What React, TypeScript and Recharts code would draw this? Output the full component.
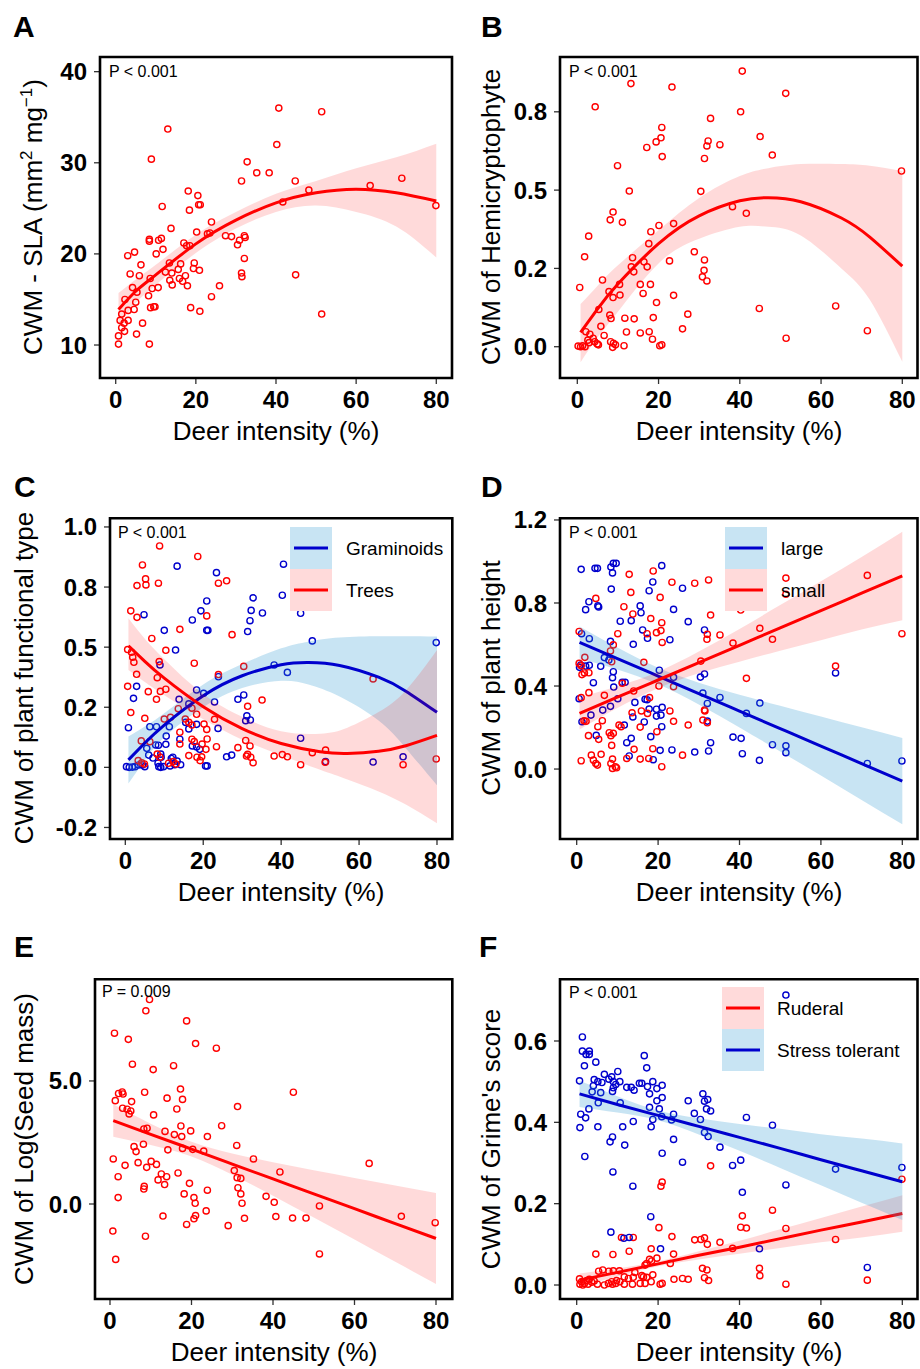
import React from "react";
import {
    ComposedChart,
    XAxis,
    YAxis,
    Scatter,
    Line,
    Area,
    ReferenceArea,
} from "recharts";

type Pt = [number, number];

const FONT = "'Liberation Sans', Arial, sans-serif";
const RED = "#ff0000";
const BLUE = "#0000cd";

const xTicks = [0, 20, 40, 60, 80];

// ---- A: CWM - SLA ----
const ptsA: Pt[] = [
    [40.7, 36.0], [51.4, 35.6], [13.0, 33.7], [40.2, 32.0], [8.9, 30.4], [32.8, 30.1], [35.2, 28.9], [38.3, 28.9],
    [31.4, 28.0], [44.8, 28.0], [71.4, 28.3], [63.5, 27.5], [48.2, 27.0], [18.1, 26.9], [20.5, 26.4], [20.7, 25.4],
    [21.1, 25.4], [41.7, 25.7], [79.9, 25.3], [11.6, 25.2], [18.4, 24.8], [23.9, 23.5], [13.8, 22.8], [20.2, 22.4],
    [22.9, 22.2], [23.5, 22.3], [27.4, 22.0], [28.9, 21.9], [32.1, 22.0], [32.3, 21.8], [30.9, 21.5], [30.4, 21.0],
    [8.4, 21.6], [8.4, 21.4], [10.7, 21.5], [11.4, 21.7], [11.8, 20.5], [17.0, 21.2], [17.7, 20.9], [18.5, 20.9],
    [3.0, 19.8], [4.7, 20.2], [10.1, 20.0], [32.1, 19.5], [13.4, 19.0], [16.2, 18.9], [19.6, 19.0], [19.4, 18.4],
    [20.9, 18.2], [6.3, 18.8], [3.6, 17.8], [5.9, 17.6], [12.4, 18.0], [14.0, 17.9], [15.6, 18.3], [17.4, 17.6],
    [17.9, 16.5], [15.9, 17.3], [16.7, 17.0], [13.5, 17.1], [14.1, 16.6], [8.6, 17.3], [4.2, 16.3], [9.1, 16.2],
    [10.6, 16.3], [25.9, 16.5], [31.4, 17.9], [31.5, 17.5], [44.9, 17.7], [2.3, 15.0], [5.3, 15.8], [8.2, 15.4],
    [23.9, 15.3], [5.0, 14.7], [8.7, 14.1], [9.5, 14.2], [9.8, 14.2], [18.7, 14.1], [21.0, 13.7], [4.6, 13.9],
    [3.1, 13.8], [1.5, 13.4], [51.4, 13.4], [1.1, 12.7], [3.1, 12.7], [2.1, 12.4], [6.7, 12.4], [1.5, 11.9],
    [2.2, 11.5], [0.7, 11.0], [5.2, 11.2], [0.7, 10.1], [8.4, 10.1],
];
const fitXA = [0.7, 5, 10, 20, 30, 40, 50, 60, 70, 80];
const fitA = [13.9, 15.9, 17.7, 21.1, 23.7, 25.6, 26.7, 27.1, 26.7, 25.8];
const loA = [12.2, 14.6, 16.6, 20.1, 22.8, 24.6, 25.3, 24.6, 23.0, 19.6];
const hiA = [15.7, 17.2, 18.8, 22.1, 24.6, 26.6, 28.0, 29.4, 30.6, 32.1];
const yTicksA = [10, 20, 30, 40];
const yLabelsA = ["10", "20", "30", "40"];

// ---- B: Hemicryptophyte ----
const ptsB: Pt[] = [
    [40.6, 0.88], [13.2, 0.84], [23.3, 0.829], [51.3, 0.809], [4.4, 0.766], [40.2, 0.75], [32.8, 0.729], [20.8, 0.7],
    [45.0, 0.671], [20.6, 0.667], [19.4, 0.654], [32.2, 0.657], [31.9, 0.641], [35.1, 0.645], [17.1, 0.636], [20.9, 0.607],
    [48.0, 0.612], [31.3, 0.601], [9.9, 0.578], [79.8, 0.561], [12.8, 0.497], [30.4, 0.496], [38.2, 0.447], [41.6, 0.426],
    [8.8, 0.43], [8.1, 0.405], [11.1, 0.397], [23.7, 0.393], [20.1, 0.387], [18.1, 0.367], [2.8, 0.353], [17.6, 0.329],
    [28.8, 0.303], [1.8, 0.287], [13.6, 0.284], [31.3, 0.277], [22.7, 0.274], [16.4, 0.271], [13.3, 0.255], [13.9, 0.239],
    [17.2, 0.255], [31.2, 0.244], [30.8, 0.223], [31.9, 0.21], [6.2, 0.213], [0.6, 0.189], [15.5, 0.199], [18.0, 0.199],
    [10.4, 0.199], [10.5, 0.165], [16.2, 0.17], [23.7, 0.164], [7.8, 0.176], [8.8, 0.157], [19.5, 0.141], [5.3, 0.119],
    [44.8, 0.122], [63.6, 0.13], [27.2, 0.104], [8.0, 0.101], [8.3, 0.09], [11.7, 0.091], [14.0, 0.089], [18.7, 0.093],
    [5.8, 0.065], [25.9, 0.057], [71.4, 0.051], [12.1, 0.047], [15.5, 0.044], [17.7, 0.048], [2.1, 0.048], [3.1, 0.04],
    [6.6, 0.036], [3.9, 0.027], [4.3, 0.016], [4.9, 0.009], [5.2, 0.006], [8.2, 0.016], [8.9, 0.011], [9.4, 0.006],
    [8.7, -0.002], [18.5, 0.024], [51.4, 0.027], [11.5, 0.003], [20.3, 0.003], [20.8, 0.006], [0.2, 0.002], [0.8, 0.0],
    [1.3, 0.003], [1.9, 0.0], [2.6, 0.021], [2.9, 0.013],
];
const fitXB = [0.8, 5, 10, 20, 30, 40, 47, 55, 65, 72, 80];
const fitB = [0.046, 0.121, 0.2, 0.329, 0.418, 0.466, 0.476, 0.463, 0.411, 0.35, 0.257];
const loB = [-0.05, 0.03, 0.112, 0.266, 0.345, 0.383, 0.383, 0.355, 0.25, 0.15, -0.048];
const hiB = [0.136, 0.195, 0.26, 0.372, 0.475, 0.545, 0.57, 0.583, 0.583, 0.578, 0.561];
const yTicksB = [0, 0.25, 0.5, 0.75];
const yLabelsB = ["0.0", "0.2", "0.5", "0.8"];

// ---- C: plant functional type ----
const ptsCTrees: Pt[] = [
    [8.8, 0.921], [18.6, 0.877], [4.4, 0.842], [5.2, 0.784], [5.3, 0.759], [3.0, 0.756], [8.5, 0.766], [23.9, 0.766],
    [26.0, 0.776], [1.4, 0.651], [3.0, 0.624], [20.9, 0.63], [14.0, 0.574], [27.4, 0.552], [6.8, 0.536], [10.4, 0.487],
    [0.6, 0.49], [1.6, 0.479], [1.9, 0.458], [2.2, 0.437], [8.7, 0.44], [17.7, 0.433], [2.9, 0.387], [8.2, 0.373],
    [30.4, 0.42], [23.9, 0.386], [63.6, 0.368], [0.6, 0.337], [5.9, 0.315], [9.0, 0.316], [10.4, 0.325], [8.0, 0.283],
    [35.1, 0.28], [31.4, 0.254], [13.6, 0.244], [17.1, 0.246], [1.4, 0.228], [5.0, 0.204], [10.0, 0.201], [11.6, 0.208],
    [15.4, 0.201], [16.3, 0.187], [17.1, 0.176], [18.3, 0.221], [20.2, 0.18], [20.9, 0.158], [22.9, 0.2], [14.0, 0.146],
    [14.0, 0.097], [17.1, 0.117], [17.7, 0.107], [19.7, 0.097], [21.0, 0.118], [23.4, 0.086], [28.9, 0.082], [30.9, 0.112],
    [32.0, 0.089], [31.4, 0.054], [31.1, 0.047], [32.2, 0.042], [32.8, 0.019], [4.1, 0.11], [6.3, 0.107], [8.2, 0.055],
    [8.9, 0.042], [3.3, 0.028], [4.2, 0.019], [4.9, 0.014], [11.1, 0.017], [12.3, 0.024], [13.0, 0.014], [16.3, 0.049],
    [18.4, 0.042], [19.2, 0.028], [19.6, 0.044], [20.7, 0.075], [38.2, 0.047], [40.3, 0.053], [41.6, 0.044], [45.0, 0.011],
    [48.0, 0.061], [51.4, 0.072], [51.3, 0.021], [71.3, 0.011], [79.8, 0.035],
];
const ptsCGram: Pt[] = [
    [13.3, 0.837], [23.4, 0.81], [40.6, 0.845], [20.9, 0.692], [32.8, 0.705], [40.3, 0.716], [32.3, 0.653], [32.0, 0.61],
    [35.2, 0.642], [19.4, 0.651], [4.8, 0.635], [45.0, 0.641], [17.2, 0.613], [20.9, 0.57], [21.2, 0.57], [10.0, 0.57],
    [31.4, 0.565], [48.0, 0.526], [79.8, 0.519], [12.9, 0.488], [8.9, 0.426], [38.2, 0.426], [41.6, 0.395], [23.9, 0.377],
    [2.9, 0.337], [18.3, 0.322], [20.1, 0.308], [2.1, 0.287], [13.8, 0.283], [28.9, 0.283], [30.4, 0.301], [22.9, 0.272],
    [16.3, 0.264], [31.2, 0.214], [30.9, 0.194], [32.1, 0.197], [0.8, 0.165], [6.3, 0.169], [8.0, 0.169], [11.3, 0.169],
    [15.5, 0.187], [16.3, 0.16], [18.3, 0.179], [23.8, 0.162], [10.5, 0.13], [14.0, 0.117], [45.0, 0.121], [7.8, 0.093],
    [8.5, 0.092], [10.4, 0.096], [17.2, 0.089], [18.3, 0.085], [19.1, 0.075], [5.5, 0.079], [6.0, 0.051], [7.1, 0.039],
    [9.1, 0.055], [9.2, 0.042], [11.8, 0.037], [12.2, 0.042], [13.3, 0.026], [26.0, 0.044], [27.3, 0.051], [63.6, 0.022],
    [71.3, 0.044], [51.4, 0.024], [0.3, 0.003], [1.0, 0.0], [1.8, 0.001], [2.5, 0.003], [3.4, 0.01], [4.4, 0.01],
    [5.0, 0.003], [8.6, 0.003], [9.1, 0.0], [9.8, 0.003], [11.5, 0.006], [12.7, 0.011], [14.2, 0.011], [20.6, 0.006],
    [21.0, 0.006], [8.4, 0.017],
];
const fitXCGram = [0.8, 5, 10, 20, 30, 40, 47, 55, 65, 72, 80];
const fitCGram = [0.031, 0.101, 0.176, 0.298, 0.381, 0.427, 0.436, 0.424, 0.375, 0.317, 0.229];
const loCGram = [-0.067, 0.03, 0.125, 0.25, 0.33, 0.36, 0.345, 0.295, 0.195, 0.08, -0.074];
const hiCGram = [0.128, 0.17, 0.225, 0.345, 0.43, 0.495, 0.523, 0.54, 0.545, 0.545, 0.544];
const fitXCTrees = [0.8, 5, 10, 20, 30, 40, 50, 57, 65, 72, 80];
const fitCTrees = [0.506, 0.441, 0.371, 0.252, 0.161, 0.099, 0.065, 0.058, 0.067, 0.09, 0.133];
const loCTrees = [0.405, 0.355, 0.3, 0.2, 0.115, 0.05, -0.01, -0.05, -0.1, -0.155, -0.233];
const hiCTrees = [0.62, 0.535, 0.45, 0.305, 0.21, 0.15, 0.14, 0.165, 0.23, 0.32, 0.488];
const yTicksC = [-0.25, 0, 0.25, 0.5, 0.75, 1.0];
const yLabelsC = ["-0.2", "0.0", "0.2", "0.5", "0.8", "1.0"];

// ---- D: plant height ----
const ptsDLarge: Pt[] = [
    [1.1, 0.962], [4.5, 0.967], [5.1, 0.967], [8.4, 0.973], [9.0, 0.991], [9.7, 0.991], [8.8, 0.945], [20.9, 0.98],
    [18.7, 0.901], [26.0, 0.871], [17.8, 0.859], [8.5, 0.867], [3.0, 0.806], [5.2, 0.786], [5.4, 0.781], [2.2, 0.768],
    [15.6, 0.786], [15.8, 0.753], [23.8, 0.769], [13.4, 0.715], [10.7, 0.712], [27.4, 0.71], [31.4, 0.67], [16.2, 0.67],
    [17.4, 0.63], [22.9, 0.623], [1.2, 0.652], [3.1, 0.628], [13.9, 0.601], [8.3, 0.615], [6.8, 0.537], [7.9, 0.525],
    [5.9, 0.495], [0.7, 0.49], [1.0, 0.501], [2.2, 0.496], [3.1, 0.5], [9.0, 0.469], [8.8, 0.44], [9.1, 0.395],
    [20.3, 0.476], [31.4, 0.458], [30.4, 0.443], [23.8, 0.442], [4.1, 0.416], [11.2, 0.418], [11.9, 0.418], [10.1, 0.339],
    [14.3, 0.321], [16.8, 0.336], [17.3, 0.334], [0.6, 0.339], [31.0, 0.366], [32.1, 0.316], [35.2, 0.345], [45.0, 0.318],
    [41.7, 0.268], [63.6, 0.463], [8.3, 0.302], [6.4, 0.284], [1.3, 0.228], [3.5, 0.26], [17.8, 0.289], [19.6, 0.288],
    [21.0, 0.297], [20.7, 0.26], [19.6, 0.255], [13.8, 0.251], [16.6, 0.227], [32.1, 0.231], [11.7, 0.212], [20.9, 0.204],
    [4.8, 0.162], [18.2, 0.156], [13.4, 0.148], [12.3, 0.127], [38.4, 0.154], [40.4, 0.148], [32.9, 0.127], [48.1, 0.117],
    [51.4, 0.112], [51.4, 0.079], [20.5, 0.09], [23.4, 0.092], [29.0, 0.082], [32.4, 0.087], [40.7, 0.074], [12.9, 0.063],
    [18.8, 0.045], [44.9, 0.042], [71.4, 0.027], [79.9, 0.039],
];
const ptsDSmall: Pt[] = [
    [18.8, 0.954], [12.9, 0.938], [32.4, 0.911], [23.4, 0.9], [29.0, 0.895], [51.4, 0.92], [71.4, 0.933], [13.3, 0.851],
    [51.4, 0.842], [4.7, 0.822], [20.5, 0.827], [11.6, 0.782], [40.3, 0.766], [13.8, 0.747], [32.9, 0.742], [18.2, 0.725],
    [20.9, 0.705], [20.7, 0.667], [0.6, 0.663], [19.6, 0.657], [17.3, 0.652], [32.1, 0.649], [32.0, 0.625], [35.2, 0.646],
    [45.0, 0.678], [10.1, 0.652], [21.0, 0.61], [38.4, 0.607], [48.1, 0.625], [79.9, 0.652], [9.0, 0.598], [8.3, 0.569],
    [8.6, 0.517], [2.0, 0.538], [16.5, 0.514], [30.5, 0.52], [63.6, 0.496], [0.6, 0.509], [1.1, 0.498], [1.3, 0.455],
    [1.9, 0.463], [3.0, 0.464], [41.7, 0.437], [20.2, 0.4], [23.8, 0.397], [11.2, 0.413], [14.0, 0.376], [6.8, 0.355],
    [3.0, 0.368], [17.9, 0.344], [1.1, 0.344], [2.3, 0.23], [1.8, 0.233], [15.9, 0.28], [13.6, 0.271], [22.9, 0.28],
    [31.4, 0.284], [31.5, 0.28], [17.4, 0.268], [31.0, 0.236], [32.1, 0.223], [23.8, 0.23], [6.3, 0.233], [5.2, 0.204],
    [10.4, 0.212], [10.9, 0.204], [15.6, 0.202], [27.4, 0.212], [19.7, 0.18], [2.9, 0.161], [5.4, 0.143], [8.0, 0.175],
    [9.0, 0.172], [8.4, 0.161], [8.6, 0.114], [14.1, 0.095], [18.7, 0.098], [3.6, 0.067], [4.1, 0.043], [4.7, 0.027],
    [5.1, 0.019], [6.0, 0.071], [1.1, 0.04], [8.8, 0.048], [8.4, 0.027], [8.8, 0.003], [9.5, 0.011], [9.8, 0.006],
    [12.3, 0.051], [15.6, 0.048], [17.7, 0.051], [26.0, 0.067], [20.9, 0.011],
];
const fitXD = [0.7, 10, 20, 30, 40, 50, 60, 70, 80];
const fitDLarge = [0.61, 0.532, 0.448, 0.363, 0.279, 0.195, 0.111, 0.026, -0.058];
const loDLarge = [0.533, 0.48, 0.408, 0.311, 0.2, 0.085, -0.031, -0.149, -0.266];
const hiDLarge = [0.687, 0.585, 0.488, 0.416, 0.358, 0.305, 0.253, 0.201, 0.15];
const fitDSmall = [0.268, 0.346, 0.429, 0.513, 0.596, 0.68, 0.763, 0.847, 0.93];
const loDSmall = [0.191, 0.294, 0.389, 0.461, 0.517, 0.57, 0.621, 0.672, 0.717];
const hiDSmall = [0.345, 0.399, 0.469, 0.566, 0.675, 0.79, 0.905, 1.022, 1.143];
const yTicksD = [0, 0.4, 0.8, 1.2];
const yLabelsD = ["0.0", "0.4", "0.8", "1.2"];

// ---- E: seed mass ----
const ptsE: Pt[] = [
    [9.7, 8.31], [8.8, 7.85], [18.8, 7.44], [1.1, 6.94], [4.5, 6.69], [21.0, 6.52], [26.1, 6.33], [5.5, 5.68],
    [15.6, 5.62], [10.6, 5.46], [17.3, 4.67], [8.5, 4.54], [45.0, 4.54], [2.1, 4.49], [3.0, 4.55], [3.2, 4.47],
    [14.0, 4.3], [17.8, 4.25], [1.3, 4.2], [5.3, 4.16], [31.3, 3.96], [3.1, 3.89], [4.2, 3.85], [5.1, 3.78],
    [4.7, 3.66], [16.4, 3.86], [10.7, 3.62], [17.4, 3.17], [27.4, 3.18], [8.3, 3.05], [9.1, 3.08], [19.8, 2.97],
    [13.5, 2.95], [15.8, 2.82], [17.6, 2.74], [23.9, 2.74], [31.1, 2.38], [8.2, 2.43], [5.9, 2.33], [6.4, 2.13],
    [14.2, 2.2], [17.8, 2.26], [20.3, 2.22], [23.0, 2.15], [0.8, 1.83], [35.2, 1.83], [63.6, 1.65], [6.9, 1.68],
    [10.1, 1.73], [11.4, 1.61], [3.7, 1.57], [9.0, 1.49], [30.5, 1.36], [41.7, 1.3], [12.6, 1.22], [11.8, 0.98],
    [13.9, 1.11], [16.7, 1.26], [2.0, 1.11], [31.2, 1.07], [32.1, 1.04], [13.4, 0.79], [19.5, 0.84], [8.4, 0.72],
    [8.3, 0.61], [31.4, 0.66], [23.9, 0.56], [18.2, 0.41], [32.1, 0.41], [38.3, 0.31], [2.0, 0.26], [20.6, 0.26],
    [40.3, 0.07], [20.9, 0.03], [32.4, 0.03], [51.4, -0.08], [23.6, -0.28], [13.0, -0.49], [21.0, -0.47], [20.6, -0.6],
    [40.7, -0.51], [44.8, -0.57], [48.1, -0.57], [33.0, -0.58], [71.5, -0.5], [79.8, -0.76], [18.8, -0.83], [29.0, -0.88],
    [0.7, -1.1], [8.7, -1.31], [51.4, -2.03], [1.4, -2.25],
];
const fitXE = [0.8, 10, 20, 30, 40, 50, 60, 70, 80];
const fitE = [3.39, 2.83, 2.23, 1.62, 1.02, 0.41, -0.19, -0.8, -1.4];
const loE = [2.73, 2.4, 1.93, 1.19, 0.34, -0.55, -1.44, -2.35, -3.25];
const hiE = [4.05, 3.26, 2.53, 2.05, 1.7, 1.37, 1.06, 0.75, 0.45];
const yTicksE = [0, 5];
const yLabelsE = ["0.0", "5.0"];

// ---- F: Grime's score ----
const ptsFStress: Pt[] = [
    [51.4, 0.713], [1.4, 0.61], [1.4, 0.575], [3.1, 0.575], [3.1, 0.567], [2.3, 0.567], [16.6, 0.564], [4.7, 0.548],
    [1.9, 0.539], [17.2, 0.534], [6.8, 0.518], [10.1, 0.525], [8.6, 0.512], [7.9, 0.506], [9.0, 0.5], [4.3, 0.505],
    [5.2, 0.5], [6.2, 0.498], [0.7, 0.502], [10.6, 0.5], [9.6, 0.493], [15.4, 0.496], [16.0, 0.496], [12.3, 0.486],
    [13.4, 0.486], [14.1, 0.479], [17.4, 0.488], [18.7, 0.5], [21.0, 0.491], [19.7, 0.483], [17.9, 0.47], [9.0, 0.485],
    [8.8, 0.476], [4.1, 0.49], [3.8, 0.475], [5.9, 0.473], [21.0, 0.461], [19.7, 0.453], [20.3, 0.433], [27.4, 0.453],
    [31.0, 0.47], [31.4, 0.452], [32.2, 0.456], [31.9, 0.433], [32.9, 0.428], [5.3, 0.448], [10.7, 0.448], [17.9, 0.437],
    [3.0, 0.433], [1.0, 0.42], [2.2, 0.411], [23.8, 0.42], [23.3, 0.406], [20.9, 0.414], [28.9, 0.422], [30.4, 0.407],
    [41.7, 0.412], [18.7, 0.407], [13.9, 0.402], [48.1, 0.393], [0.8, 0.387], [5.2, 0.389], [11.3, 0.389], [18.3, 0.389],
    [31.4, 0.375], [32.3, 0.365], [8.8, 0.364], [8.2, 0.352], [23.8, 0.358], [11.8, 0.344], [35.2, 0.339], [2.0, 0.316],
    [21.0, 0.324], [26.0, 0.302], [40.3, 0.307], [38.3, 0.294], [63.6, 0.285], [79.9, 0.289], [8.9, 0.278], [13.8, 0.243],
    [51.4, 0.246], [40.7, 0.228], [18.2, 0.168], [8.4, 0.13], [11.6, 0.115], [12.9, 0.117], [20.6, 0.089], [44.9, 0.089],
    [71.4, 0.043],
];
const ptsFRuderal: Pt[] = [
    [32.9, 0.293], [21.0, 0.253], [20.7, 0.243], [79.9, 0.26], [48.1, 0.184], [40.7, 0.17], [40.3, 0.142], [41.7, 0.14],
    [20.2, 0.141], [51.4, 0.139], [23.4, 0.119], [11.0, 0.117], [13.9, 0.117], [29.0, 0.111], [30.5, 0.112], [31.4, 0.116],
    [32.1, 0.1], [35.2, 0.105], [63.6, 0.112], [38.3, 0.09], [18.3, 0.089], [12.9, 0.083], [4.7, 0.076], [8.9, 0.075],
    [23.8, 0.076], [19.7, 0.066], [17.9, 0.063], [18.4, 0.059], [17.2, 0.053], [16.8, 0.049], [23.0, 0.053], [44.9, 0.041],
    [45.0, 0.023], [30.9, 0.041], [32.0, 0.037], [31.4, 0.018], [32.4, 0.011], [5.4, 0.034], [6.4, 0.037], [7.9, 0.034],
    [9.0, 0.035], [10.5, 0.035], [14.3, 0.031], [11.7, 0.02], [12.7, 0.016], [13.9, 0.019], [16.0, 0.023], [16.4, 0.02],
    [17.2, 0.019], [18.7, 0.025], [23.9, 0.014], [26.0, 0.016], [27.4, 0.014], [71.4, 0.012], [51.4, 0.002], [0.7, 0.015],
    [1.2, 0.008], [1.9, 0.004], [2.5, 0.011], [3.1, 0.014], [3.7, 0.007], [4.3, 0.01], [0.8, 0.002], [1.5, 0.0],
    [2.8, 0.002], [5.1, 0.002], [6.8, 0.0], [7.8, 0.004], [8.8, 0.002], [9.6, 0.004], [11.7, 0.002], [13.7, 0.002],
    [15.6, 0.004], [16.8, 0.004], [18.3, 0.008], [20.5, 0.002], [21.0, 0.004], [9.8, 0.011], [10.6, 0.008], [8.6, 0.008],
];
const fitXF = [0.7, 10, 20, 30, 40, 50, 60, 70, 80];
const fitFRuderal = [0.012, 0.031, 0.052, 0.073, 0.093, 0.114, 0.135, 0.155, 0.176];
const loFRuderal = [-0.004, 0.021, 0.046, 0.063, 0.077, 0.091, 0.105, 0.117, 0.131];
const hiFRuderal = [0.028, 0.041, 0.058, 0.083, 0.109, 0.137, 0.165, 0.193, 0.221];
const fitFStress = [0.47, 0.444, 0.417, 0.39, 0.363, 0.336, 0.308, 0.281, 0.254];
const loFStress = [0.438, 0.424, 0.405, 0.37, 0.33, 0.288, 0.245, 0.202, 0.16];
const hiFStress = [0.502, 0.464, 0.429, 0.41, 0.396, 0.384, 0.371, 0.36, 0.348];
const yTicksF = [0, 0.2, 0.4, 0.6];
const yLabelsF = ["0.0", "0.2", "0.4", "0.6"];

interface Group {
    pts: Pt[];
    color: string;
    fitX: number[];
    fit: number[];
    lo: number[];
    hi: number[];
    bandFill: string;
    bandOpacity: number;
    curve: "natural" | "linear";
}

interface PanelProps {
    cell: { x: number; y: number; w: number; h: number };
    box: { l: number; t: number; r: number; b: number };
    xDomain: [number, number];
    yDomain: [number, number];
    yTicks: number[];
    yLabels: string[];
    groups: Group[];
}

const redBand = { bandFill: "#ff0000", bandOpacity: 0.145 };
const blueBand = { bandFill: "#2393cf", bandOpacity: 0.25 };

const tickStyle = { fontSize: 24, fontWeight: 700, fill: "#000", fontFamily: FONT };

const Panel: React.FC<PanelProps> = ({ cell, box, xDomain, yDomain, yTicks, yLabels, groups }) => {
    return (
        <div style={{ position: "absolute", left: cell.x, top: cell.y }}>
            <ComposedChart
                width={cell.w}
                height={cell.h}
                margin={{ top: box.t - cell.y, right: cell.x + cell.w - box.r, left: 0, bottom: 0 }}
            >
                <XAxis
                    type="number"
                    dataKey="x"
                    domain={xDomain}
                    ticks={xTicks}
                    interval={0}
                    allowDataOverflow
                    height={cell.y + cell.h - box.b}
                    axisLine={false}
                    tickLine={{ stroke: "#333", strokeWidth: 1.3 }}
                    tickSize={6}
                    tickMargin={7}
                    tick={tickStyle}
                />
                <YAxis
                    type="number"
                    dataKey="y"
                    domain={yDomain}
                    ticks={yTicks}
                    interval={0}
                    allowDataOverflow
                    width={box.l - cell.x}
                    axisLine={false}
                    tickLine={{ stroke: "#333", strokeWidth: 1.3 }}
                    tickSize={6}
                    tickMargin={7}
                    tick={tickStyle}
                    tickFormatter={(v: number) => yLabels[yTicks.indexOf(v)] ?? String(v)}
                />
                {groups.map((g, i) => (
                    <Scatter
                        key={"pts" + i}
                        data={g.pts.map(([x, y]) => ({ x, y }))}
                        isAnimationActive={false}
                        zIndex={50}
                        shape={(p: any) => (
                            <circle cx={p.cx} cy={p.cy} r={3.1} fill="none" stroke={g.color} strokeWidth={1.4} />
                        )}
                    />
                ))}
                {groups.map((g, i) => {
                    const rows = g.fitX.map((x, k) => ({ x, fit: g.fit[k], band: [g.lo[k], g.hi[k]] }));
                    return [
                        <Area
                            key={"band" + i}
                            data={rows}
                            dataKey="band"
                            type={g.curve}
                            stroke="none"
                            fill={g.bandFill}
                            fillOpacity={g.bandOpacity}
                            isAnimationActive={false}
                            activeDot={false}
                            zIndex={110 + i * 20}
                        />,
                        <Line
                            key={"fit" + i}
                            data={rows}
                            dataKey="fit"
                            type={g.curve}
                            stroke={g.color}
                            strokeWidth={3}
                            dot={false}
                            activeDot={false}
                            isAnimationActive={false}
                            zIndex={120 + i * 20}
                        />,
                    ];
                })}
                <ReferenceArea
                    x1={xDomain[0]}
                    x2={xDomain[1]}
                    y1={yDomain[0]}
                    y2={yDomain[1]}
                    fill="none"
                    fillOpacity={0}
                    stroke="#000"
                    strokeWidth={2.6}
                    ifOverflow="visible"
                    zIndex={3000}
                />
            </ComposedChart>
        </div>
    );
};

const xTitle = "Deer intensity (%)";

const Overlay: React.FC = () => {
    const letters = [
        { t: "A", x: 13, y: 37 },
        { t: "B", x: 481, y: 37 },
        { t: "C", x: 14, y: 497 },
        { t: "D", x: 481, y: 497 },
        { t: "E", x: 14, y: 957 },
        { t: "F", x: 479, y: 957 },
    ];
    const pvals = [
        { t: "P < 0.001", x: 109, y: 77 },
        { t: "P < 0.001", x: 569, y: 77 },
        { t: "P < 0.001", x: 118, y: 538 },
        { t: "P < 0.001", x: 569, y: 538 },
        { t: "P = 0.009", x: 102, y: 997 },
        { t: "P < 0.001", x: 569, y: 998 },
    ];
    const xTitles = [
        { x: 276, y: 440 },
        { x: 739, y: 440 },
        { x: 281, y: 901 },
        { x: 739, y: 901 },
        { x: 274, y: 1361 },
        { x: 739, y: 1361 },
    ];
    const yTitles = [
        { t: "CWM of Hemicryptophyte", x: 500, y: 217 },
        { t: "CWM of plant functional type", x: 33, y: 678 },
        { t: "CWM of plant height", x: 500, y: 678 },
        { t: "CWM of Log(Seed mass)", x: 33, y: 1139 },
        { t: "CWM of Grime's score", x: 500, y: 1139 },
    ];
    const legends = [
        { x: 290, y: 527, x2: 346, items: [{ t: "Graminoids", c: BLUE, bg: "#c8e4f3" }, { t: "Trees", c: RED, bg: "#ffdada" }] },
        { x: 725, y: 527, x2: 781, items: [{ t: "large", c: BLUE, bg: "#c8e4f3" }, { t: "small", c: RED, bg: "#ffdada" }] },
        { x: 722, y: 987, x2: 777, items: [{ t: "Ruderal", c: RED, bg: "#ffdada" }, { t: "Stress tolerant", c: BLUE, bg: "#c8e4f3" }] },
    ];
    return (
        <svg
            width={920}
            height={1369}
            style={{ position: "absolute", left: 0, top: 0, pointerEvents: "none" }}
            fontFamily={FONT}
        >
            {letters.map((l) => (
                <text key={l.t} x={l.x} y={l.y} fontSize={30} fontWeight={700} fill="#000">
                    {l.t}
                </text>
            ))}
            {pvals.map((p, i) => (
                <text key={"p" + i} x={p.x} y={p.y} fontSize={16} fill="#000">
                    {p.t}
                </text>
            ))}
            {xTitles.map((p, i) => (
                <text key={"xt" + i} x={p.x} y={p.y} fontSize={26} textAnchor="middle" fill="#000">
                    {xTitle}
                </text>
            ))}
            <text x={42} y={217} fontSize={26} textAnchor="middle" fill="#000" transform="rotate(-90 42 217)">
                <tspan>CWM - SLA (mm</tspan>
                <tspan dy={-10} fontSize={17}>2</tspan>
                <tspan dy={10}> mg</tspan>
                <tspan dy={-10} fontSize={17}>−1</tspan>
                <tspan dy={10}>)</tspan>
            </text>
            {yTitles.map((p, i) => (
                <text
                    key={"yt" + i}
                    x={p.x}
                    y={p.y}
                    fontSize={26}
                    textAnchor="middle"
                    fill="#000"
                    transform={`rotate(-90 ${p.x} ${p.y})`}
                >
                    {p.t}
                </text>
            ))}
            {legends.map((lg, i) => (
                <g key={"lg" + i}>
                    {lg.items.map((it, k) => {
                        const top = lg.y + k * 42;
                        return (
                            <g key={it.t}>
                                <rect x={lg.x} y={top} width={42} height={42} fill={it.bg} />
                                <line x1={lg.x + 4} x2={lg.x + 38} y1={top + 21} y2={top + 21} stroke={it.c} strokeWidth={3.2} />
                                <text x={lg.x2} y={top + 28} fontSize={19} fill="#000">
                                    {it.t}
                                </text>
                            </g>
                        );
                    })}
                </g>
            ))}
        </svg>
    );
};

export default function App() {
    return (
        <div style={{ position: "absolute", left: 0, top: 0, width: 920, height: 1369, background: "#fff", fontFamily: FONT }}>
            <Panel
                cell={{ x: 0, y: 0, w: 460, h: 460 }}
                box={{ l: 100, t: 57, r: 452, b: 378 }}
                xDomain={[-3.92, 83.92]}
                yDomain={[6.38, 41.61]}
                yTicks={yTicksA}
                yLabels={yLabelsA}
                groups={[{ pts: ptsA, color: RED, fitX: fitXA, fit: fitA, lo: loA, hi: hiA, ...redBand, curve: "natural" }]}
            />
            <Panel
                cell={{ x: 460, y: 0, w: 460, h: 460 }}
                box={{ l: 560, t: 57, r: 917.5, b: 378 }}
                xDomain={[-4.26, 83.74]}
                yDomain={[-0.0999, 0.925]}
                yTicks={yTicksB}
                yLabels={yLabelsB}
                groups={[{ pts: ptsB, color: RED, fitX: fitXB, fit: fitB, lo: loB, hi: hiB, ...redBand, curve: "natural" }]}
            />
            <Panel
                cell={{ x: 0, y: 460, w: 460, h: 460 }}
                box={{ l: 110, t: 518.3, r: 452.3, b: 839 }}
                xDomain={[-3.93, 83.93]}
                yDomain={[-0.298, 1.036]}
                yTicks={yTicksC}
                yLabels={yLabelsC}
                groups={[
                    { pts: ptsCGram, color: BLUE, fitX: fitXCGram, fit: fitCGram, lo: loCGram, hi: hiCGram, ...blueBand, curve: "natural" },
                    { pts: ptsCTrees, color: RED, fitX: fitXCTrees, fit: fitCTrees, lo: loCTrees, hi: hiCTrees, ...redBand, curve: "natural" },
                ]}
            />
            <Panel
                cell={{ x: 460, y: 460, w: 460, h: 460 }}
                box={{ l: 560, t: 518.3, r: 917.5, b: 839 }}
                xDomain={[-4.1, 83.73]}
                yDomain={[-0.337, 1.208]}
                yTicks={yTicksD}
                yLabels={yLabelsD}
                groups={[
                    { pts: ptsDLarge, color: BLUE, fitX: fitXD, fit: fitDLarge, lo: loDLarge, hi: hiDLarge, ...blueBand, curve: "natural" },
                    { pts: ptsDSmall, color: RED, fitX: fitXD, fit: fitDSmall, lo: loDSmall, hi: hiDSmall, ...redBand, curve: "natural" },
                ]}
            />
            <Panel
                cell={{ x: 0, y: 920, w: 460, h: 449 }}
                box={{ l: 95, t: 979.3, r: 452.3, b: 1299 }}
                xDomain={[-3.68, 84.0]}
                yDomain={[-3.86, 9.13]}
                yTicks={yTicksE}
                yLabels={yLabelsE}
                groups={[{ pts: ptsE, color: RED, fitX: fitXE, fit: fitE, lo: loE, hi: hiE, ...redBand, curve: "natural" }]}
            />
            <Panel
                cell={{ x: 460, y: 920, w: 460, h: 449 }}
                box={{ l: 560, t: 979.3, r: 917.5, b: 1299 }}
                xDomain={[-4.1, 83.73]}
                yDomain={[-0.0344, 0.7517]}
                yTicks={yTicksF}
                yLabels={yLabelsF}
                groups={[
                    { pts: ptsFRuderal, color: RED, fitX: fitXF, fit: fitFRuderal, lo: loFRuderal, hi: hiFRuderal, ...redBand, curve: "natural" },
                    { pts: ptsFStress, color: BLUE, fitX: fitXF, fit: fitFStress, lo: loFStress, hi: hiFStress, ...blueBand, curve: "natural" },
                ]}
            />
            <Overlay />
        </div>
    );
}
